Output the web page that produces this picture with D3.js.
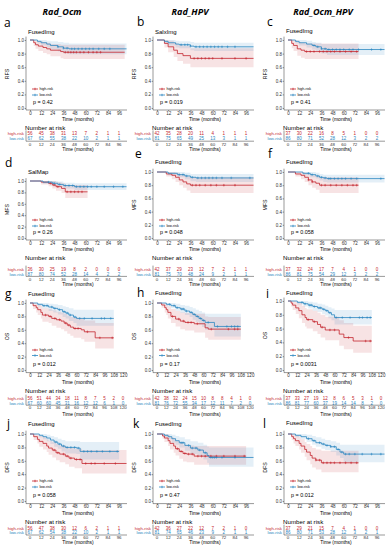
<!DOCTYPE html>
<html>
<head>
<meta charset="utf-8">
<script src="https://cdn.jsdelivr.net/npm/d3@7"></script>
<style>
  body{margin:0;background:#fff}
  svg{display:block}
  text{font-family:"Liberation Sans",Arial,sans-serif}
  .big{font-family:"Open Sans","Noto Sans",sans-serif}
</style>
</head>
<body>
<div id="chart"></div>
<script>
// ---- data ----
var headers = ["Rad_Ocm", "Rad_HPV", "Rad_Ocm_HPV"];
var letters = ["a","b","c","d","e","f","g","h","i","j","k","l"];
var titles = ["FusedImg","SalxImg","FusedImg","SalMap","FusedImg","FusedImg",
              "FusedImg","FusedImg","FusedImg","FusedImg","FusedImg","FusedImg"];
var endpoints = ["RFS", "MFS", "OS", "DFS"];
var pValues = ["0.42","0.019","0.41","0.26","0.048","0.058","0.012","0.17","0.0031","0.058","0.47","0.012"];
var groups = ["high-risk", "low-risk"];
var monthTicks = [0,12,24,36,48,60,72,84,96];
var monthTicksOS = [0,12,24,36,48,60,72,84,96,108,120];
var yTicks = [0,0.2,0.4,0.6,0.8,1.0];

// steps: [month, survival, lower CI, upper CI]  (high-risk, low-risk)
var survA = [
  [[0,1,1,1],[4,.96,.91,1],[6,.93,.87,.99],[9,.91,.84,.98],[14,.89,.81,.97],[18,.87,.79,.96],[22,.85,.76,.94],[33,.83,.73,.93],[36,.82,.72,.93],[102,.82,.72,.93]],
  [[0,1,1,1],[8,.98,.95,1],[12,.96,.92,1],[18,.94,.89,.99],[22,.92,.86,.98],[30,.9,.83,.97],[36,.88,.8,.96],[42,.87,.79,.95],[104,.87,.79,.95]]];
var survB = [
  [[0,1,1,1],[8,.95,.89,1],[12,.9,.82,.99],[18,.85,.75,.96],[22,.8,.69,.93],[28,.77,.65,.91],[36,.73,.6,.88],[104,.73,.6,.88]],
  [[0,1,1,1],[8,.98,.95,1],[12,.96,.92,1],[20,.94,.89,.99],[24,.93,.88,.98],[36,.91,.85,.97],[40,.9,.84,.96],[104,.9,.84,.96]]];
var survC = [
  [[0,1,1,1],[4,.95,.88,1],[6,.92,.84,1],[10,.87,.77,.97],[14,.85,.74,.96],[18,.83,.72,.95],[76,.83,.72,.95]],
  [[0,1,1,1],[8,.98,.95,1],[12,.96,.92,1],[20,.94,.89,.99],[26,.92,.86,.97],[30,.9,.84,.96],[36,.87,.8,.94],[42,.86,.78,.94],[104,.86,.78,.94]]];
var survD = [
  [[0,1,1,1],[12,.98,.94,1],[20,.96,.91,1],[24,.93,.87,1],[28,.9,.83,.98],[34,.87,.79,.96],[38,.81,.7,.93],[62,.81,.7,.93]],
  [[0,1,1,1],[14,.98,.95,1],[24,.96,.92,1],[30,.94,.9,.99],[36,.92,.87,.97],[48,.9,.84,.96],[104,.9,.84,.96]]];
var survE = [
  [[0,1,1,1],[10,.97,.93,1],[16,.95,.89,1],[20,.92,.85,.99],[24,.88,.8,.97],[28,.85,.76,.95],[32,.82,.72,.93],[36,.8,.68,.92],[104,.8,.68,.92]],
  [[0,1,1,1],[12,.98,.95,1],[22,.96,.92,1],[30,.94,.89,.99],[36,.92,.86,.97],[42,.91,.85,.97],[104,.91,.85,.97]]];
var survF = [
  [[0,1,1,1],[8,.97,.93,1],[14,.95,.89,1],[18,.92,.85,.99],[22,.88,.8,.97],[26,.85,.76,.95],[30,.83,.73,.94],[34,.8,.68,.92],[76,.8,.68,.92]],
  [[0,1,1,1],[16,.98,.95,1],[24,.96,.92,1],[30,.94,.9,.99],[34,.92,.87,.97],[38,.91,.85,.96],[42,.9,.84,.96],[104,.9,.84,.96]]];
var survG = [
  [[0,1,1,1],[4,.96,.91,1],[8,.93,.86,1],[10,.9,.82,.98],[14,.86,.77,.95],[16,.82,.72,.92],[24,.8,.7,.91],[28,.77,.66,.89],[34,.75,.63,.87],[40,.73,.61,.86],[44,.7,.58,.84],[48,.67,.54,.81],[52,.64,.51,.79],[56,.62,.48,.78],[66,.6,.46,.76],[70,.57,.42,.74],[84,.48,.32,.7],[108,.48,.32,.7]],
  [[0,1,1,1],[10,.98,.95,1],[16,.96,.92,1],[24,.94,.88,.99],[30,.92,.86,.98],[36,.9,.83,.97],[42,.87,.79,.95],[46,.85,.77,.94],[50,.82,.73,.92],[56,.79,.7,.9],[60,.77,.66,.9],[108,.77,.66,.9]]];
var survH = [
  [[0,1,1,1],[6,.97,.93,1],[10,.93,.86,1],[12,.9,.82,.98],[14,.86,.77,.95],[18,.8,.7,.91],[24,.76,.65,.88],[30,.73,.61,.86],[36,.71,.59,.85],[48,.69,.56,.84],[62,.63,.48,.8],[66,.61,.45,.79],[108,.61,.45,.79]],
  [[0,1,1,1],[12,.98,.95,1],[18,.96,.92,1],[24,.93,.88,.99],[30,.91,.85,.97],[36,.88,.82,.96],[42,.86,.79,.94],[46,.83,.75,.92],[50,.8,.72,.9],[54,.77,.68,.88],[58,.74,.64,.86],[62,.71,.6,.84],[74,.65,.5,.84],[108,.65,.5,.84]]];
var survI = [
  [[0,1,1,1],[4,.97,.92,1],[6,.94,.87,1],[10,.9,.81,.99],[14,.86,.75,.97],[18,.8,.68,.93],[22,.76,.63,.9],[24,.73,.6,.88],[32,.7,.56,.86],[38,.66,.52,.83],[42,.62,.47,.8],[48,.58,.43,.77],[66,.52,.35,.72],[72,.47,.3,.68],[84,.42,.25,.64],[108,.42,.25,.64]],
  [[0,1,1,1],[12,.98,.95,1],[20,.96,.92,1],[26,.94,.89,.99],[32,.92,.86,.98],[38,.9,.84,.96],[44,.88,.81,.95],[48,.86,.79,.93],[52,.83,.75,.91],[56,.8,.72,.89],[60,.76,.66,.87],[108,.76,.66,.87]]];
var survJ = [
  [[0,1,1,1],[4,.96,.91,1],[8,.92,.86,.99],[10,.89,.81,.97],[14,.86,.77,.95],[18,.82,.73,.92],[20,.79,.69,.9],[24,.76,.65,.88],[28,.72,.61,.85],[32,.7,.58,.83],[38,.67,.55,.81],[42,.64,.51,.79],[48,.62,.49,.78],[56,.56,.41,.76],[104,.56,.41,.76]],
  [[0,1,1,1],[10,.98,.95,1],[14,.96,.92,1],[18,.94,.89,.99],[22,.91,.85,.97],[26,.88,.81,.95],[30,.85,.78,.93],[34,.82,.74,.91],[38,.8,.71,.89],[50,.79,.7,.89],[54,.74,.62,.88],[96,.74,.62,.88]]];
var survK = [
  [[0,1,1,1],[6,.97,.93,1],[8,.94,.88,1],[12,.9,.82,.98],[14,.86,.77,.95],[18,.82,.72,.92],[20,.78,.68,.9],[24,.74,.63,.87],[28,.71,.59,.84],[32,.7,.58,.83],[40,.67,.54,.82],[96,.67,.54,.82]],
  [[0,1,1,1],[8,.98,.95,1],[12,.96,.92,1],[16,.93,.87,.99],[20,.9,.84,.97],[24,.87,.8,.95],[30,.83,.75,.92],[36,.79,.7,.89],[44,.76,.67,.87],[50,.72,.62,.84],[54,.68,.57,.81],[56,.65,.51,.8],[104,.65,.51,.8]]];
var survL = [
  [[0,1,1,1],[4,.96,.91,1],[6,.93,.86,1],[8,.9,.82,.98],[12,.86,.77,.95],[14,.82,.72,.92],[18,.77,.66,.88],[20,.73,.61,.85],[24,.68,.55,.82],[26,.64,.5,.79],[30,.61,.47,.77],[36,.57,.43,.75],[76,.57,.43,.75]],
  [[0,1,1,1],[8,.98,.95,1],[14,.96,.92,1],[20,.93,.88,.99],[26,.9,.84,.97],[30,.87,.81,.95],[36,.85,.78,.93],[40,.83,.76,.91],[46,.81,.73,.89],[52,.77,.68,.87],[56,.73,.64,.84],[60,.7,.58,.84],[104,.7,.58,.84]]];

// censoring times (months)
var censA = [[38,41,44,47,50,54,58,63,68,72,76], [30,36,40,45,48,52,56,60,64,68,74,80,86]];
var censB = [[40,44,48,52,56,60,70,84,96], [26,30,33,36,42,46,50,54,58,62,66,70,76,84]];
var censC = [[20,24,28,34,38,42,46,50,56,62,68,74], [28,32,36,40,44,48,52,56,60,66,70,76,90,100]];
var censD = [[22,26,30,40,44,48,52,56], [20,26,32,38,42,46,50,54,58,62,66,72,80,90,100]];
var censE = [[38,42,46,52,58,64,72,84], [24,28,32,38,44,48,52,56,60,64,70,80,100]];
var censF = [[22,26,36,40,46,52,58,64,70,74], [22,26,32,36,40,44,46,50,54,58,62,68,74,100]];
var censG = [[20,26,32,38,46,50,58,62,74,90,106], [18,22,28,32,38,44,48,52,58,64,70,80,92,96,104]];
var censH = [[20,28,34,40,44,52,70,92,100,104], [16,22,26,32,34,38,44,48,52,56,60,66,78,90,96,100,104]];
var censI = [[26,34,44,54,60,78,100,106], [18,22,28,30,34,40,42,46,50,54,62,70,80,92,96,102,106]];
var censJ = [[26,30,36,40,44,50,54,60,66,70,80,92], [28,32,36,40,44,48,52,58,62,66,72,78,86,94]];
var censK = [[22,26,30,34,38,44,48,52,58,64,72,84,94], [26,28,34,38,42,46,52,58,60,62,64,70,84]];
var censL = [[30,34,38,42,46,50,56,62,68,74], [22,28,34,38,42,46,50,54,58,62,66,72,80,90,100]];

// number at risk (high-risk, low-risk)
var riskA = [[56,45,38,31,13,7,2,1,1], [67,62,55,38,22,10,2,1,1]];
var riskB = [[42,35,28,20,11,4,1,1,1], [81,75,65,49,25,13,3,1,1]];
var riskC = [[37,30,22,16,8,5,1,0,0], [86,80,71,52,28,12,3,2,2]];
var riskD = [[36,30,25,19,8,2,0,0,0], [87,80,74,52,28,14,4,2,2]];
var riskE = [[42,37,29,23,12,7,2,1,1], [81,75,70,48,24,9,2,1,1]];
var riskF = [[37,32,24,17,7,4,1,0,0], [86,81,75,54,29,12,3,2,2]];
var riskG = [[56,51,44,34,18,11,8,7,5,2,0], [67,60,60,45,31,16,12,12,6,1,0]];
var riskH = [[42,38,32,24,15,10,8,8,4,1,0], [81,76,72,55,34,17,12,11,7,2,0]];
var riskI = [[37,33,27,19,12,8,6,5,3,1,0], [86,81,77,60,37,19,14,14,8,2,0]];
var riskJ = [[56,47,38,30,12,6,2,1,1], [67,62,54,38,22,10,2,1,1]];
var riskK = [[42,36,27,22,12,7,2,1,0], [81,74,65,46,23,9,2,1,1]];
var riskL = [[37,29,21,15,7,4,1,0,0], [86,80,71,53,28,12,3,2,1]];

var surv = [survA,survB,survC,survD,survE,survF,survG,survH,survI,survJ,survK,survL];
var cens = [censA,censB,censC,censD,censE,censF,censG,censH,censI,censJ,censK,censL];
var risk = [riskA,riskB,riskC,riskD,riskE,riskF,riskG,riskH,riskI,riskJ,riskK,riskL];

// ---- layout ----
var W = 387, H = 550;
var colors = ["#c4262e", "#2b86c0"];
var colX0 = [30, 157, 288];
var headerX = [62, 190, 323];
var letterX = [[4,137,267],[5,135,268],[5,137,266],[7,133,263]];
var letterY = [[27,26,26],[167,158,158],[298,297,298],[428,428,428]];
var titleY = [[34,34,33],[174,164,164],[296,295,295],[426,426,425]];
var plotTop = [[40,40,40],[181,172,172],[303,303,301],[434,434,434]];
var rowGeo = [
  {bot:108, xMax:104.5, ticks:monthTicks, axOff:2, timeOff:12.8, leg:[89,95], pY:103.5, nar:130, hi:135.4, lo:140.4, tk:145.6, tm:150.8},
  {bot:238, xMax:104.5, ticks:monthTicks, axOff:2, timeOff:12.8, leg:[220,226], pY:234, nar:260, hi:270.6, lo:275.6, tk:280.8, tm:285.8},
  {bot:370, xMax:125, ticks:monthTicksOS, axOff:2.6, timeOff:14, leg:[350,355.5], pY:366, nar:393, hi:399.6, lo:404.6, tk:409.4, tm:416},
  {bot:501, xMax:104.5, ticks:monthTicks, axOff:2.6, timeOff:14, leg:[481,487], pY:496.5, nar:524, hi:529.6, lo:534.4, tk:539.2, tm:544.4}
];

var svg = d3.select("#chart").append("svg").attr("width", W).attr("height", H);

svg.selectAll(".hdr").data(headers).enter().append("text")
  .attr("class", "big")
  .attr("x", function(d, i){ return headerX[i]; }).attr("y", 15)
  .attr("text-anchor", "middle")
  .style("font-size", "9px").style("font-weight", "bold").style("font-style", "italic")
  .text(function(d){ return d; });

function survAt(steps, t){
  var s = steps[0][1];
  steps.forEach(function(p){ if (p[0] <= t) s = p[1]; });
  return s;
}

function drawPanel(i){
  var r = Math.floor(i / 3), c = i % 3, geo = rowGeo[r];
  var x0 = colX0[c], top = plotTop[r][c], bot = geo.bot;
  var x = d3.scaleLinear().domain([0, geo.xMax]).range([x0, x0 + 97]);
  var y = d3.scaleLinear().domain([0, 1]).range([bot, top]);
  var pad = (bot - top) * 0.05;
  var g = svg.append("g");

  g.append("text").attr("class", "big").attr("x", letterX[r][c]).attr("y", letterY[r][c])
    .style("font-size", "12px").text(letters[i]);
  g.append("text").attr("x", x0 - 2).attr("y", titleY[r][c])
    .style("font-size", "6px").text(titles[i]);

  // confidence bands, curves, censor marks
  var area = d3.area().curve(d3.curveStepAfter)
    .x(function(d){ return x(d[0]); })
    .y0(function(d){ return y(d[2]); })
    .y1(function(d){ return y(d[3]); });
  var line = d3.line().curve(d3.curveStepAfter)
    .x(function(d){ return x(d[0]); })
    .y(function(d){ return y(d[1]); });
  surv[i].forEach(function(s, k){
    g.append("path").attr("d", area(s)).attr("fill", colors[k]).attr("fill-opacity", 0.13);
  });
  surv[i].forEach(function(s, k){
    g.append("path").attr("d", line(s)).attr("fill", "none")
      .attr("stroke", colors[k]).attr("stroke-width", 0.8);
    g.append("g").selectAll("path").data(cens[i][k]).enter().append("path")
      .attr("d", function(t){
        var cx = x(t), cy = y(survAt(s, t));
        return "M" + (cx - 1) + "," + cy + "H" + (cx + 1) + "M" + cx + "," + (cy - 1.3) + "V" + (cy + 1.3);
      })
      .attr("stroke", colors[k]).attr("stroke-width", 0.5);
  });

  // axes
  var ya = g.append("g").attr("transform", "translate(" + (x0 - 4) + ",0)")
    .call(d3.axisLeft(y).tickValues(yTicks).tickFormat(d3.format(".1f")).tickSize(1.3).tickPadding(0.8));
  ya.select(".domain").remove();
  ya.append("line").attr("y1", bot + geo.axOff).attr("y2", top - pad).attr("stroke", "#333").attr("stroke-width", 0.5);
  var xa = g.append("g").attr("transform", "translate(0," + (bot + geo.axOff) + ")")
    .call(d3.axisBottom(x).tickValues(geo.ticks).tickSize(1.2).tickPadding(0.3));
  xa.select(".domain").remove();
  xa.append("line").attr("x1", x0 - 4).attr("x2", x0 + 97).attr("stroke", "#333").attr("stroke-width", 0.5);
  g.selectAll(".tick text").style("font-size", "4.5px").attr("fill", "#333");
  g.selectAll(".tick line").attr("stroke", "#333").attr("stroke-width", 0.5);

  g.append("text").attr("x", x0 + 48).attr("y", bot + geo.timeOff)
    .attr("text-anchor", "middle").style("font-size", "5px").text("Time (months)");
  g.append("text").attr("transform", "translate(" + (x0 - 21) + "," + ((top + bot) / 2) + ") rotate(-90)")
    .attr("text-anchor", "middle").style("font-size", "5.2px").text(endpoints[r]);

  // legend and p value
  groups.forEach(function(name, k){
    var ly = geo.leg[k];
    g.append("path").attr("d", "M" + (x0 + 2) + "," + ly + "H" + (x0 + 8) + "M" + (x0 + 5) + "," + (ly - 1.2) + "V" + (ly + 1.2))
      .attr("stroke", colors[k]).attr("stroke-width", 0.8);
    g.append("text").attr("x", x0 + 9.5).attr("y", ly + 1.2).style("font-size", "3.6px").text(name);
  });
  g.append("text").attr("x", x0 + 3).attr("y", geo.pY).style("font-size", "5.4px").text("p = " + pValues[i]);

  // risk table
  g.append("text").attr("x", x0 - 5).attr("y", geo.nar).style("font-size", "6.2px").text("Number at risk");
  [geo.hi, geo.lo].forEach(function(ry, k){
    g.append("text").attr("x", x0 - 6).attr("y", ry).attr("text-anchor", "end")
      .style("font-size", "4.3px").attr("fill", colors[k]).text(groups[k]);
    g.append("g").selectAll("text").data(risk[i][k]).enter().append("text")
      .attr("x", function(d, j){ return x(geo.ticks[j]); }).attr("y", ry)
      .attr("text-anchor", "middle").style("font-size", "4.5px").attr("fill", colors[k])
      .text(function(d){ return d; });
  });
  var ly = (geo.lo + geo.tk) / 2 - 1.8;
  g.append("line").attr("x1", x0 - 4).attr("x2", x0 - 4).attr("y1", geo.hi - 5).attr("y2", ly)
    .attr("stroke", "#333").attr("stroke-width", 0.5);
  g.append("line").attr("x1", x0 - 4).attr("x2", x0 + 97).attr("y1", ly).attr("y2", ly)
    .attr("stroke", "#333").attr("stroke-width", 0.5);
  g.append("g").selectAll("text").data(geo.ticks).enter().append("text")
    .attr("x", function(d){ return x(d); }).attr("y", geo.tk)
    .attr("text-anchor", "middle").style("font-size", "4.4px").attr("fill", "#333")
    .text(function(d){ return d; });
  g.append("text").attr("x", x0 + 48).attr("y", geo.tm)
    .attr("text-anchor", "middle").style("font-size", "4.9px").text("Time (months)");
}

for (var i = 0; i < 12; i++) drawPanel(i);
</script>
</body>
</html>
